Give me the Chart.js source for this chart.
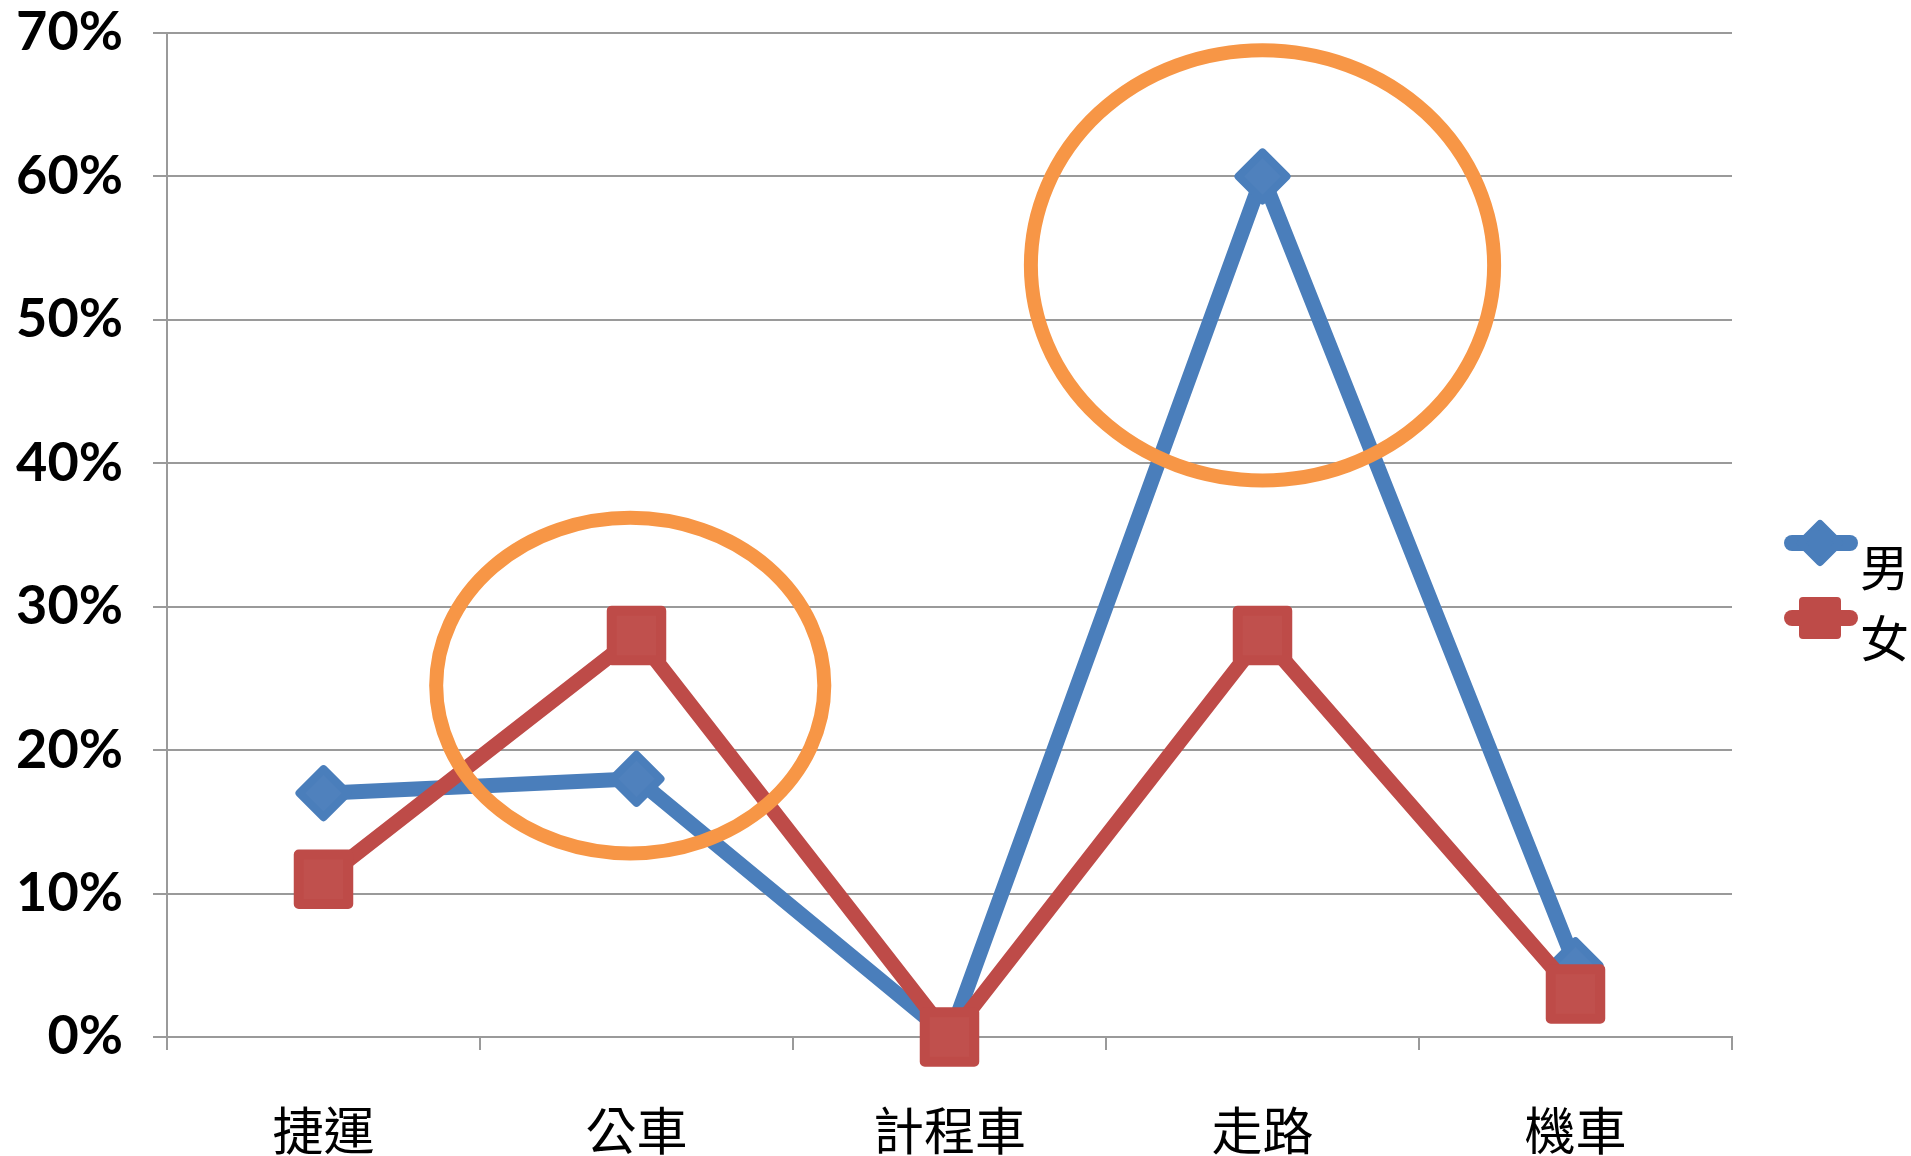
<!DOCTYPE html>
<html>
<head>
<meta charset="utf-8">
<style>
  html, body { margin: 0; padding: 0; background: #fff; }
  #wrap { width: 1911px; height: 1156px; }
</style>
<script src="https://cdn.jsdelivr.net/npm/chart.js@4.4.0/dist/chart.umd.min.js"></script>
</head>
<body>
<div id="wrap"><canvas id="modeChart"></canvas></div>
<script>
// commute mode share by gender (%)
const categories = ['捷運', '公車', '計程車', '走路', '機車'];
const maleShare = [17, 18, 0, 60, 5];
const femaleShare = [11, 28, 0, 28, 3];
const seriesNames = ['男', '女'];

// orange rings: centre (category index, %), half-width in categories, half-height in %
const ringCenterX = [0.98, 3];
const ringCenterY = [24.5, 53.8];
const ringHalfW = [0.62, 0.74];
const ringHalfH = [11.7, 15];

const BLUE = '#4a7ebb';
const RED = '#be4b48';
const ORANGE = '#f79646';
const GRID = '#9a9a9a';

// round joins for the marker outlines
const roundMarkers = {
    id: 'roundMarkers',
    beforeDatasetDraw(chart) { chart.ctx.lineJoin = 'round'; },
    afterDatasetDraw(chart) { chart.ctx.lineJoin = 'miter'; }
};

const highlightRings = {
    id: 'highlightRings',
    afterDatasetsDraw(chart) {
        const { ctx, scales: { x, y } } = chart;
        ctx.save();
        ctx.strokeStyle = ORANGE;
        ctx.lineWidth = 14;
        ringCenterX.forEach((cx, i) => {
            const px = x.getPixelForValue(cx);
            const py = y.getPixelForValue(ringCenterY[i]);
            const rx = x.getPixelForValue(cx + ringHalfW[i]) - px;
            const ry = y.getPixelForValue(ringCenterY[i] - ringHalfH[i]) - py;
            ctx.beginPath();
            ctx.ellipse(px, py, rx, ry, 0, 0, Math.PI * 2);
            ctx.stroke();
        });
        ctx.restore();
    }
};

function drawMarker(ctx, style, x, y, color) {
    ctx.beginPath();
    if (style === 'rectRot') {
        const r = 19;
        ctx.moveTo(x, y - r); ctx.lineTo(x + r, y); ctx.lineTo(x, y + r); ctx.lineTo(x - r, y);
    } else {
        const h = 17;
        ctx.rect(x - h, y - h, h * 2, h * 2);
    }
    ctx.closePath();
    ctx.fillStyle = color;
    ctx.strokeStyle = color;
    ctx.lineWidth = 8;
    ctx.lineJoin = 'round';
    ctx.fill();
    ctx.stroke();
}

// legend at the right: short line with the marker, name set a little lower
const sideLegend = {
    id: 'sideLegend',
    afterDraw(chart) {
        const ctx = chart.ctx;
        const styles = ['rectRot', 'rect'];
        const colors = [BLUE, RED];
        const lineY = [543, 618];
        const textY = [567, 638];
        ctx.save();
        seriesNames.forEach((name, i) => {
            ctx.strokeStyle = colors[i];
            ctx.lineWidth = 16;
            ctx.lineCap = 'round';
            ctx.beginPath();
            ctx.moveTo(1792, lineY[i]);
            ctx.lineTo(1850, lineY[i]);
            ctx.stroke();
            drawMarker(ctx, styles[i], 1820, lineY[i], colors[i]);
            ctx.fillStyle = '#000';
            ctx.font = '49px "Noto Sans CJK TC"';
            ctx.textAlign = 'left';
            ctx.textBaseline = 'middle';
            ctx.fillText(name, 1860, textY[i]);
        });
        ctx.restore();
    }
};

const ctx = document.getElementById('modeChart').getContext('2d');

new Chart(ctx, {
    type: 'line',
    data: {
        labels: categories,
        datasets: [{
            label: seriesNames[1],
            data: femaleShare,
            order: 0,
            borderColor: RED,
            borderWidth: 15,
            borderJoinStyle: 'round',
            borderCapStyle: 'round',
            tension: 0,
            clip: false,
            pointStyle: 'rect',
            pointRadius: 35,
            pointBackgroundColor: '#c0504d',
            pointBorderColor: RED,
            pointBorderWidth: 10
        }, {
            label: seriesNames[0],
            data: maleShare,
            order: 1,
            borderColor: BLUE,
            borderWidth: 15,
            borderJoinStyle: 'round',
            borderCapStyle: 'round',
            tension: 0,
            clip: false,
            pointStyle: 'rectRot',
            pointRadius: 24,
            pointBackgroundColor: '#4f81bd',
            pointBorderColor: BLUE,
            pointBorderWidth: 8
        }]
    },
    options: {
        responsive: true,
        maintainAspectRatio: false,
        animation: false,
        layout: {
            autoPadding: false,
            padding: { top: 33, right: 179, left: 0, bottom: 0 }
        },
        plugins: {
            legend: { display: false },
            tooltip: { enabled: false }
        },
        scales: {
            x: {
                offset: true,
                afterFit: (scale) => { scale.height = 119; },
                grid: {
                    offset: true,
                    drawOnChartArea: false,
                    drawTicks: true,
                    tickLength: 13,
                    color: GRID,
                    lineWidth: 2
                },
                border: { display: true, color: GRID, width: 2 },
                ticks: {
                    color: '#000',
                    padding: 50,
                    maxRotation: 0,
                    font: { family: '"Noto Sans CJK TC"', size: 51 }
                }
            },
            y: {
                min: 0,
                max: 70,
                afterFit: (scale) => {
                    scale.width = 167;
                    scale.paddingTop = 0;
                    scale.paddingBottom = 0;
                },
                grid: {
                    color: GRID,
                    lineWidth: 2,
                    drawTicks: true,
                    tickLength: 14
                },
                border: { display: true, color: GRID, width: 2 },
                ticks: {
                    stepSize: 10,
                    color: '#000',
                    padding: 30,
                    font: { family: 'Lato', weight: 'bold', size: 54 },
                    callback: (v) => v + '%'
                }
            }
        }
    },
    plugins: [roundMarkers, highlightRings, sideLegend]
});
</script>
</body>
</html>
